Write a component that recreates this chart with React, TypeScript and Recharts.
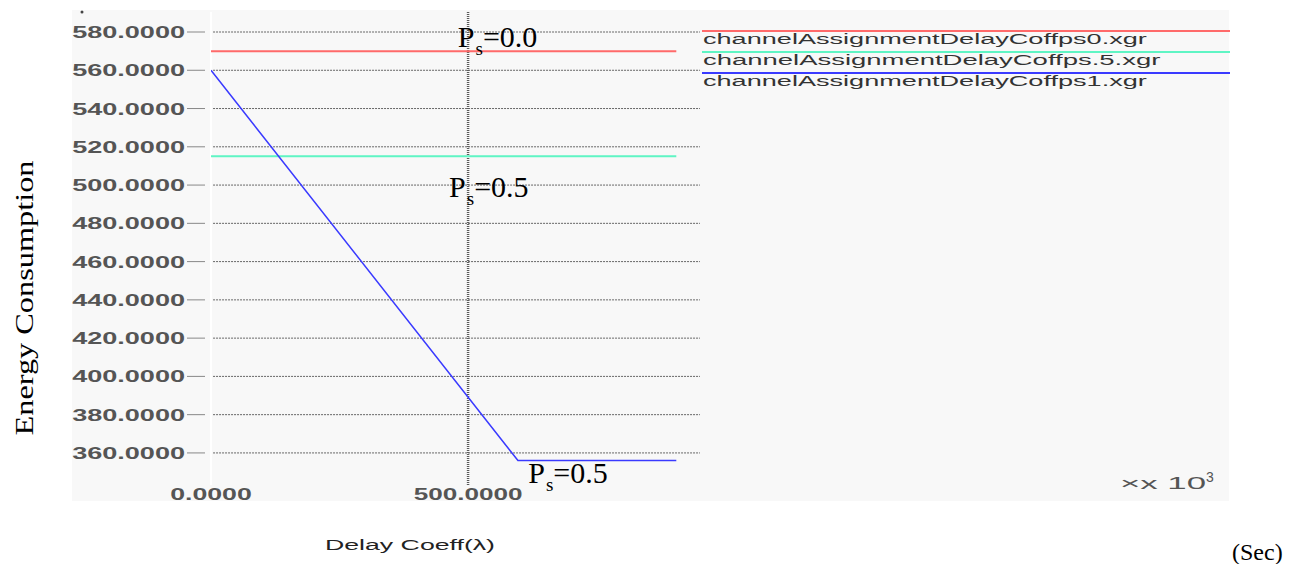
import React from "react";
import {
  ComposedChart,
  Line,
  XAxis,
  YAxis,
  Legend,
  ReferenceLine,
  ReferenceDot,
} from "recharts";

// series (x in delay coeff units, y energy)
const ps0 = [
  { x: 0, y: 570 },
  { x: 905, y: 570 },
];
const ps05 = [
  { x: 0, y: 515 },
  { x: 905, y: 515 },
];
const ps1 = [
  { x: 0, y: 560 },
  { x: 597, y: 356 },
  { x: 905, y: 356 },
];

const yTicks = [360, 380, 400, 420, 440, 460, 480, 500, 520, 540, 560, 580];
const xTicks = [0, 500];

const seriesNames = [
  "channelAssignmentDelayCoffps0.xgr",
  "channelAssignmentDelayCoffps.5.xgr",
  "channelAssignmentDelayCoffps1.xgr",
];

// text labels placed on the plot (data units)
const notes = [
  { x: 480, y: 572.2, value: "0.0" },
  { x: 463, y: 493.8, value: "0.5" },
  { x: 617, y: 344.3, value: "0.5" },
];

const W = 1295;
const H = 564;

const YTick = (props: any) => {
  const { x, y, payload } = props;
  const label = Number(payload.value).toFixed(4);
  return (
    <g>
      <text
        x={x - 26}
        y={y + 6}
        textAnchor="end"
        fontFamily="Liberation Sans"
        fontWeight="bold"
        fontSize={16}
        fill="#555"
        textLength={label.length * 14.1}
        lengthAdjust="spacingAndGlyphs"
      >
        {label}
      </text>
      <line x1={x - 24} x2={x - 6} y1={y} y2={y} stroke="#888" strokeWidth={1} />
    </g>
  );
};

const XTick = (props: any) => {
  const { x, y, payload } = props;
  const label = Number(payload.value).toFixed(4);
  return (
    <text
      x={x}
      y={y}
      textAnchor="middle"
      fontFamily="Liberation Sans"
      fontWeight="bold"
      fontSize={16}
      fill="#555"
      textLength={label.length * 13.6}
      lengthAdjust="spacingAndGlyphs"
    >
      {label}
    </text>
  );
};

const renderLegend = (props: any) => {
  const items = [...(props.payload || [])].sort(
    (a: any, b: any) => seriesNames.indexOf(a.value) - seriesNames.indexOf(b.value)
  );
  return (
    <svg width={528} height={70} style={{ display: "block" }}>
      {items.map((item: any, i: number) => (
        <g key={i}>
          <line
            x1={0}
            x2={528}
            y1={7 + i * 21}
            y2={7 + i * 21}
            stroke={item.color}
            strokeWidth={2}
          />
          <text
            x={1}
            y={20 + i * 21}
            fontFamily="Liberation Sans"
            fontSize={14}
            fill="#333"
            textLength={String(item.value).length * 13.45}
            lengthAdjust="spacingAndGlyphs"
          >
            {item.value}
          </text>
        </g>
      ))}
    </svg>
  );
};

const noteLabel = (value: string) => (props: any) => {
  const vb = props.viewBox || {};
  const cx = vb.x + (vb.width || 0) / 2;
  const cy = vb.y + (vb.height || 0) / 2;
  return (
    <text x={cx} y={cy} fontFamily="Liberation Serif" fontSize={30} fill="#000">
      P
      <tspan fontSize={19} dy={8} dx={1}>
        s
      </tspan>
      <tspan dy={-8}>={value}</tspan>
    </text>
  );
};

export default function App() {
  return (
    <div style={{ position: "absolute", left: 0, top: 0, width: W, height: H, background: "#fff" }}>
      <div
        style={{
          position: "absolute",
          left: 72,
          top: 10,
          width: 1157,
          height: 491,
          background: "#f8f8f8",
        }}
      />
      <div style={{ position: "absolute", left: 0, top: 0 }}>
        <ComposedChart width={W} height={H} margin={{ top: 10, right: 66, bottom: 0, left: 0 }}>
          <XAxis
            dataKey="x"
            type="number"
            domain={[0, 1980]}
            ticks={xTicks}
            height={64}
            axisLine={false}
            tickLine={false}
            tickSize={0}
            tickMargin={0}
            tick={<XTick />}
            allowDataOverflow
          />
          <YAxis
            type="number"
            domain={[335.4, 591.5]}
            ticks={yTicks}
            width={211}
            axisLine={false}
            tickLine={false}
            tickSize={0}
            tickMargin={0}
            tick={<YTick />}
            allowDataOverflow
          />
          {yTicks.map((v) => (
            <ReferenceLine
              key={v}
              segment={[
                { x: 4, y: v },
                { x: 951, y: v },
              ]}
              stroke="#666"
              strokeDasharray="2 1"
              strokeWidth={1}
            />
          ))}
          <ReferenceLine
            segment={[
              { x: 0, y: 590.5 },
              { x: 0, y: 343.3 },
            ]}
            stroke="#ffffff"
            strokeWidth={2}
          />
          <ReferenceLine
            segment={[
              { x: 500, y: 590.5 },
              { x: 500, y: 343.3 },
            ]}
            stroke="#5a5a5a"
            strokeDasharray="1 1"
            strokeWidth={2.5}
          />
          <Line
            data={ps0}
            dataKey="y"
            name={seriesNames[0]}
            stroke="#ff6a6a"
            strokeWidth={2}
            dot={false}
            isAnimationActive={false}
          />
          <Line
            data={ps05}
            dataKey="y"
            name={seriesNames[1]}
            stroke="#5ff5c4"
            strokeWidth={2}
            dot={false}
            isAnimationActive={false}
          />
          <Line
            data={ps1}
            dataKey="y"
            name={seriesNames[2]}
            stroke="#3a3aff"
            strokeWidth={1.5}
            dot={false}
            isAnimationActive={false}
          />
          {notes.map((n, i) => (
            <ReferenceDot
              key={i}
              x={n.x}
              y={n.y}
              r={1}
              fill="none"
              stroke="none"
              label={{ content: noteLabel(n.value) }}
            />
          ))}
          <Legend
            layout="horizontal"
            verticalAlign="middle"
            align="center"
            content={renderLegend}
            wrapperStyle={{ left: 702, top: 24, width: 528, height: 70 }}
          />
        </ComposedChart>
      </div>
      <svg
        width={W}
        height={H}
        style={{ position: "absolute", left: 0, top: 0, pointerEvents: "none" }}
      >
        <text
          transform="translate(33,298) rotate(-90)"
          textAnchor="middle"
          fontFamily="Liberation Serif"
          fontSize={26}
          fill="#000"
          textLength={275}
          lengthAdjust="spacingAndGlyphs"
        >
          Energy Consumption
        </text>
        <text
          x={325}
          y={550}
          fontFamily="Liberation Sans"
          fontSize={14}
          fill="#222"
          textLength={170}
          lengthAdjust="spacingAndGlyphs"
        >
          Delay Coeff(λ)
        </text>
        <text x={1232} y={560} fontFamily="Liberation Serif" fontSize={24} fill="#000">
          (Sec)
        </text>
        <text
          x={1120}
          y={489}
          fontFamily="Liberation Sans"
          fontSize={16}
          fill="#555"
          textLength={86}
          lengthAdjust="spacingAndGlyphs"
        >
          ×x 10
        </text>
        <text x={1206} y={482} fontFamily="Liberation Sans" fontSize={14} fill="#555">
          3
        </text>
        <circle cx={82} cy={12} r={1.5} fill="#444" />
      </svg>
    </div>
  );
}
